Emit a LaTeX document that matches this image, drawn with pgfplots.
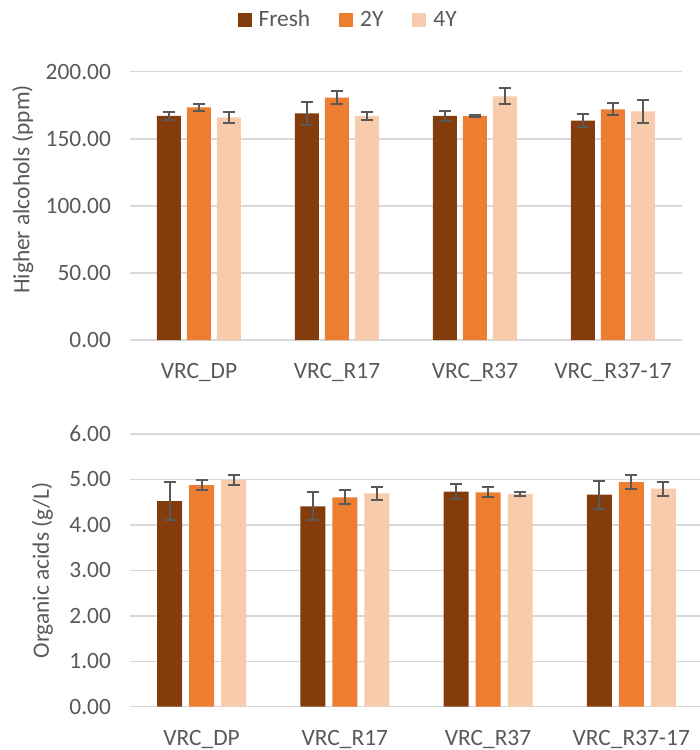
\documentclass[border=0pt]{standalone}
\usepackage{pgfplots}
\pgfplotsset{compat=1.18}
\usepackage{fontspec}
\setmainfont{Carlito}
\definecolor{fresh}{HTML}{843C0C}
\definecolor{twoy}{HTML}{ED7D31}
\definecolor{foury}{HTML}{F8CBAD}
\definecolor{txt}{HTML}{595959}
\definecolor{grd}{HTML}{D9D9D9}
\definecolor{errc}{HTML}{595959}
\newcommand{\fs}{\fontsize{11.7}{14}\selectfont}
\pgfplotsset{
  errstyle/.style={error bars/.cd, y dir=both, y explicit,
    error bar style={color=errc, line width=1pt},
    error mark options={rotate=90, mark size=3pt, line width=1pt, color=errc}},
  mystyle/.style={
    scale only axis,
    axis x line*=bottom,
    axis y line*=left,
    y axis line style={draw=none},
    x axis line style={draw=grd, line width=0.75pt},
    ymajorgrids,
    major grid style={draw=grd, line width=0.75pt},
    xtick style={draw=none}, ytick style={draw=none},
    xtick={0,1,2,3},
    xticklabels={VRC\_DP,VRC\_R17,VRC\_R37,VRC\_R37-17},
    tick label style={font=\fs, text=txt},
    label style={font=\fs, text=txt},
    xticklabel style={yshift=-4pt},
    yticklabel style={xshift=-6pt},
    /pgf/number format/assume math mode=true,
    /pgf/number format/.cd, fixed, fixed zerofill, precision=2, /pgfplots/.cd,
    xmin=-0.5, ymin=0,
  },
  sqlegend/.style={legend image code/.code={\fill[##1] (0pt,-3.5pt) rectangle (7pt,3.5pt);}},
}
\begin{document}
\begin{tikzpicture}
\path[use as bounding box] (0,0) rectangle (350pt,-375pt);
% top axis
\begin{axis}[mystyle,
  at={(65pt,-170pt)}, anchor=south west,
  width=276pt, height=134.15pt,
  xmax=3.5, ymax=200,
  ytick={0,50,100,150,200},
  ybar=3pt, bar width=12pt,
  sqlegend,
  ylabel={Higher alcohols (ppm)},
  ylabel style={at={(axis description cs:-0.194,0.561)}, anchor=center},
  legend columns=3,
  legend style={at={(0.397,1.1927)}, anchor=center, draw=none, fill=none,
    font=\fs, text=txt,
    /tikz/every even column/.append style={column sep=12.5pt},
    /tikz/every odd column/.append style={column sep=1.5pt}},
]
\addplot[fill=fresh, draw=none, errstyle] coordinates {
  (0,167.0) +- (0,3.1)
  (1,169.0) +- (0,8.5)
  (2,167.0) +- (0,3.6)
  (3,163.5) +- (0,4.8)
};
\addplot[fill=twoy, draw=none, errstyle] coordinates {
  (0,173.5) +- (0,2.7)
  (1,180.6) +- (0,5.0)
  (2,167.0) +- (0,0.7)
  (3,172.0) +- (0,4.6)
};
\addplot[fill=foury, draw=none, errstyle] coordinates {
  (0,166.0) +- (0,3.9)
  (1,167.0) +- (0,3.1)
  (2,181.6) +- (0,6.0)
  (3,170.5) +- (0,8.6)
};
\legend{Fresh,2Y,4Y}
\end{axis}
% bottom axis
\begin{axis}[mystyle,
  at={(65pt,-353.35pt)}, anchor=south west,
  width=285pt, height=136.35pt,
  xmax=3.48, ymax=6,
  ytick={0,1,2,3,4,5,6},
  ybar=3.5pt, bar width=12.5pt,
  ylabel={Organic acids (g/L)},
  ylabel style={at={(axis description cs:-0.154,0.5)}, anchor=center},
]
\addplot[fill=fresh, draw=none, errstyle] coordinates {
  (0,4.526) +- (0,0.41)
  (1,4.41) +- (0,0.305)
  (2,4.73) +- (0,0.168)
  (3,4.665) +- (0,0.308)
};
\addplot[fill=twoy, draw=none, errstyle] coordinates {
  (0,4.878) +- (0,0.106)
  (1,4.607) +- (0,0.157)
  (2,4.717) +- (0,0.11)
  (3,4.944) +- (0,0.147)
};
\addplot[fill=foury, draw=none, errstyle] coordinates {
  (0,4.988) +- (0,0.113)
  (1,4.695) +- (0,0.15)
  (2,4.68) +- (0,0.044)
  (3,4.797) +- (0,0.154)
};
\end{axis}
\end{tikzpicture}
\end{document}
